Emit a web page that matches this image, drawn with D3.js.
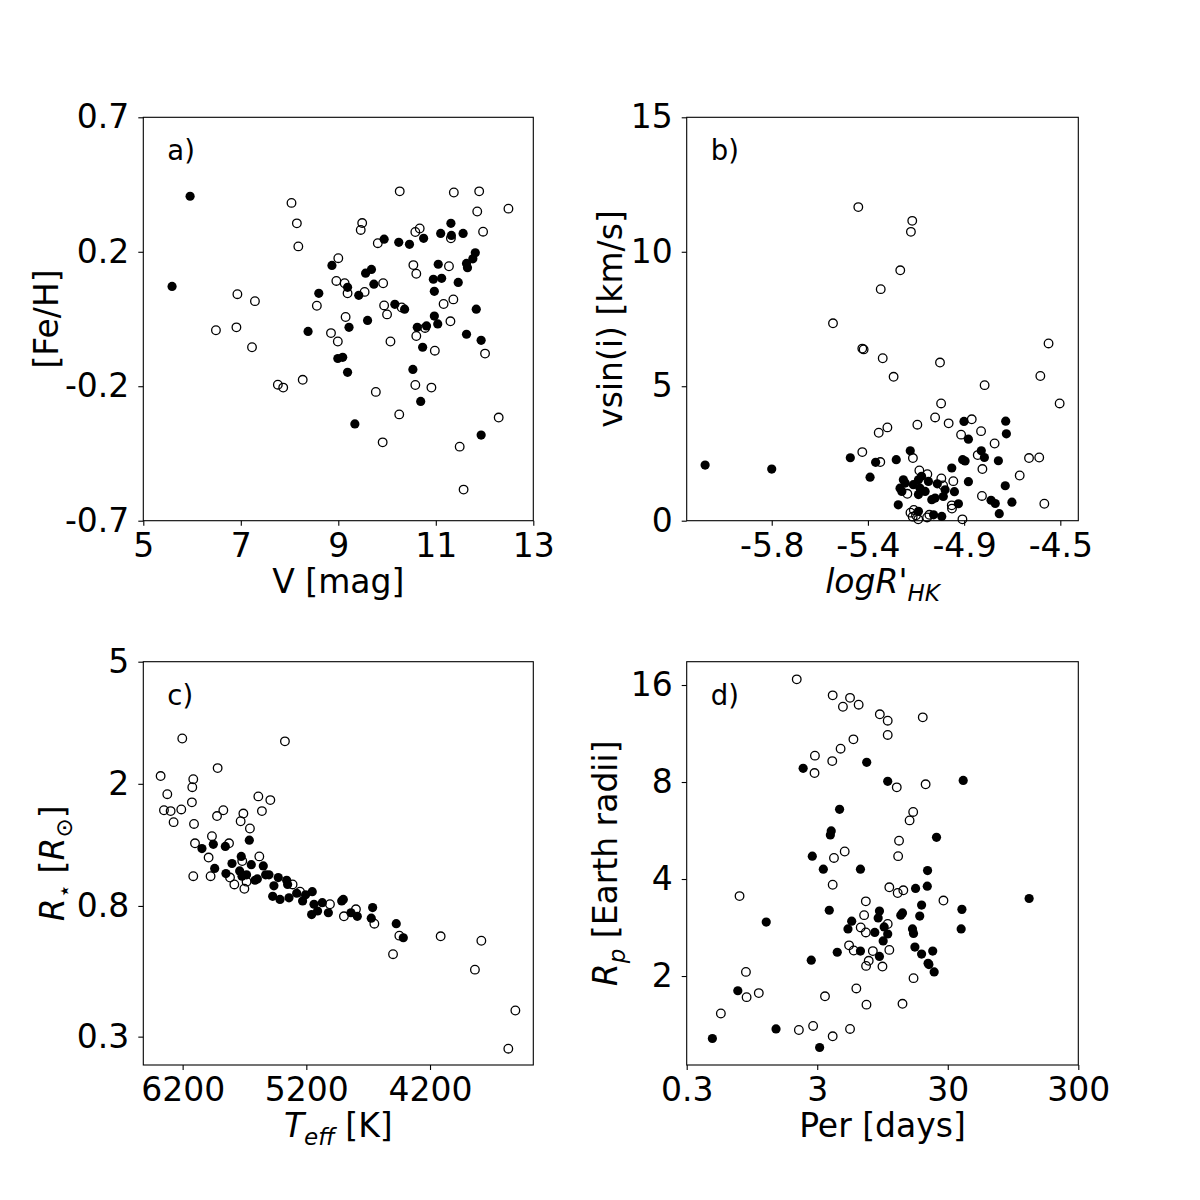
<!DOCTYPE html>
<html>
<head>
<meta charset="utf-8">
<script src="https://cdn.jsdelivr.net/npm/d3@7"></script>
<style>
  body { margin: 0; background: #fff; }
  text { font-family: "DejaVu Sans", sans-serif; fill: #000; }
</style>
</head>
<body>
<div id="chart"></div>
<script>
// ---- panel a : V [mag] vs [Fe/H]
var aFilled = [[5.96,0.426],[5.59,0.113],[8.38,-0.043],[8.60,0.089],[8.87,0.186],[9.19,0.110],[9.22,-0.029],[8.99,-0.137],[9.09,-0.133],[9.19,-0.185],[9.34,-0.364],[9.42,0.082],[9.56,0.159],[9.68,0.172],[9.73,0.121],[9.60,-0.005],[9.94,0.277],[10.24,0.266],[10.46,0.259],[10.75,0.280],[10.16,0.051],[10.36,0.034],[10.53,-0.175],[10.69,-0.286],[10.73,-0.098],[10.62,-0.029],[10.81,-0.024],[10.97,0.010],[11.04,-0.017],[10.97,0.096],[10.95,0.138],[11.12,0.141],[11.05,0.190],[11.10,0.297],[11.31,0.332],[11.32,0.290],[11.56,0.297],[11.46,0.127],[11.63,0.193],[11.65,0.178],[11.76,0.209],[11.81,0.230],[11.83,0.034],[11.63,-0.053],[11.93,-0.074],[11.93,-0.403]]
var aOpen = [[6.49,-0.039],[6.93,0.086],[6.91,-0.029],[7.29,0.062],[7.23,-0.098],[8.04,0.403],[8.15,0.332],[8.18,0.252],[7.76,-0.228],[7.87,-0.238],[8.27,-0.211],[8.56,0.046],[8.85,-0.049],[8.99,-0.078],[9.00,0.211],[8.96,0.132],[9.13,0.124],[9.19,0.089],[9.15,0.007],[9.49,0.333],[9.46,0.309],[9.54,0.094],[9.81,0.263],[9.92,0.124],[9.94,0.047],[10.00,0.016],[10.07,-0.078],[9.77,-0.253],[10.26,0.443],[10.25,-0.331],[9.91,-0.428],[10.30,0.040],[10.58,0.302],[10.67,0.314],[10.54,0.187],[10.60,0.157],[10.60,-0.059],[10.78,-0.031],[10.58,-0.229],[10.91,-0.238],[10.98,-0.110],[11.37,0.439],[11.31,0.280],[11.27,0.183],[11.16,0.052],[11.36,0.068],[11.30,-0.008],[11.89,0.443],[11.85,0.373],[11.97,0.303],[12.49,0.383],[12.01,-0.120],[12.29,-0.342],[11.49,-0.443],[11.57,-0.592]]
var aXTicks = [5, 7, 9, 11, 13]
var aXLabels = ["5", "7", "9", "11", "13"]
var aYTicks = [-0.7, -0.2333, 0.2333, 0.7]
var aYLabels = ["-0.7", "-0.2", "0.2", "0.7"]

// ---- panel b : logR'HK vs vsin(i)
var bFilled = [[-6.100,2.07],[-5.800,1.92],[-5.446,2.34],[-5.357,1.62],[-5.332,2.17],[-5.239,2.27],[-5.176,2.60],[-4.934,3.69],[-4.746,3.70],[-4.743,3.23],[-4.914,3.03],[-4.856,2.60],[-4.842,2.35],[-4.940,2.27],[-4.929,2.22],[-4.779,2.23],[-4.989,1.96],[-4.914,1.45],[-4.748,1.30],[-4.718,0.69],[-4.812,0.76],[-4.793,0.64],[-4.775,0.26],[-4.977,1.08],[-4.959,0.63],[-5.027,0.90],[-5.054,1.37],[-5.230,0.59],[-5.207,1.52],[-5.199,1.40],[-5.222,1.21],[-5.214,1.09],[-5.162,1.34],[-5.139,1.52],[-5.132,1.21],[-5.125,1.65],[-5.139,0.97],[-5.109,1.09],[-5.064,0.84],[-5.094,1.46],[-5.079,0.78],[-5.019,1.15],[-5.139,0.35],[-5.071,0.22],[-5.034,0.16]]
var bOpen = [[-5.410,11.66],[-5.167,11.15],[-5.173,10.74],[-5.221,9.31],[-5.309,8.61],[-5.524,7.34],[-5.392,6.40],[-5.386,6.37],[-5.300,6.04],[-5.251,5.35],[-5.042,5.88],[-4.841,5.04],[-4.553,6.59],[-4.590,5.38],[-4.503,4.36],[-5.037,4.36],[-5.064,3.84],[-5.144,3.57],[-5.003,3.62],[-4.899,3.77],[-5.279,3.47],[-5.318,3.27],[-4.947,3.20],[-4.857,3.33],[-4.796,2.87],[-5.392,2.55],[-5.311,2.18],[-5.164,2.33],[-4.641,2.33],[-4.595,2.35],[-4.683,1.68],[-4.572,0.63],[-4.872,2.44],[-4.851,1.92],[-4.853,0.92],[-5.135,1.87],[-5.099,1.73],[-5.036,1.57],[-5.028,1.31],[-4.982,1.47],[-5.189,1.00],[-4.989,0.57],[-4.988,0.45],[-4.941,0.05],[-5.175,0.30],[-5.165,0.15],[-5.160,0.40],[-5.150,0.20],[-5.100,0.12],[-5.090,0.22],[-5.140,0.05]]
var bXTicks = [-5.8, -5.3667, -4.9333, -4.5]
var bXLabels = ["-5.8", "-5.4", "-4.9", "-4.5"]
var bYTicks = [0, 5, 10, 15]
var bYLabels = ["0", "5", "10", "15"]

// ---- panel c : Teff vs stellar radius
var cFilled = [[6044,1.23],[5952,1.27],[5855,1.25],[5661,1.31],[5941,1.06],[5726,1.16],[5801,1.10],[5850,1.02],[5739,1.04],[5720,1.00],[5683,1.01],[5645,1.09],[5615,0.97],[5596,0.98],[5548,1.08],[5529,1.01],[5502,1.01],[5427,0.99],[5462,0.93],[5359,0.97],[5351,0.94],[5472,0.86],[5413,0.84],[5340,0.85],[5278,0.88],[5206,0.87],[5152,0.89],[5230,0.83],[5157,0.75],[5138,0.81],[5109,0.77],[5071,0.82],[5022,0.76],[4914,0.83],[4901,0.84],[4839,0.76],[4788,0.74],[4664,0.79],[4675,0.73],[4473,0.70],[4416,0.63]]
var cOpen = [[6203,2.81],[5373,2.75],[6378,2.12],[5917,2.25],[6114,2.07],[6122,1.95],[6324,1.85],[6125,1.74],[6351,1.64],[6297,1.63],[6211,1.65],[6273,1.50],[6108,1.48],[5871,1.64],[5922,1.57],[5709,1.60],[5731,1.51],[5588,1.82],[5491,1.77],[5559,1.63],[5656,1.43],[5963,1.35],[6100,1.28],[5825,1.28],[5990,1.15],[5580,1.16],[5718,1.12],[6114,1.00],[5974,1.00],[5817,0.99],[5782,0.94],[5701,0.91],[5683,0.96],[5311,0.94],[5251,0.89],[5009,0.81],[4896,0.74],[4799,0.78],[4650,0.70],[4448,0.64],[4499,0.557],[4114,0.637],[3785,0.616],[3837,0.496],[3510,0.365],[3567,0.274]]
var cXTicks = [6200, 5200, 4200]
var cXLabels = ["6200", "5200", "4200"]
var cYTicks = [5, 2, 0.8, 0.3]
var cYLabels = ["5", "2", "0.8", "0.3"]

// ---- panel d : period vs planet radius
var dFilled = [[2.34,8.82],[7.18,9.21],[10.4,8.04],[39.4,8.09],[4.45,6.58],[3.84,5.64],[3.78,5.48],[24.6,5.39],[2.75,4.71],[3.34,4.29],[6.43,4.29],[21.0,4.25],[17.0,3.74],[20.9,3.80],[126,3.48],[18.9,3.32],[38.5,3.22],[3.71,3.20],[8.99,3.18],[8.79,3.03],[13.1,3.09],[13.5,3.14],[18.3,3.07],[1.22,2.94],[5.51,2.96],[5.16,2.80],[8.28,2.73],[9.77,2.84],[10.4,2.70],[9.60,2.57],[16.1,2.80],[16.4,2.71],[38.0,2.80],[4.27,2.37],[6.43,2.39],[8.99,2.30],[16.8,2.46],[18.9,2.34],[23.0,2.39],[21.2,2.19],[21.5,2.17],[23.6,2.06],[2.70,2.24],[0.739,1.80],[1.45,1.37],[0.472,1.28],[3.13,1.20]]
var dOpen = [[2.09,16.66],[3.94,14.86],[5.35,14.6],[4.72,13.7],[6.23,13.9],[9.05,12.98],[10.4,12.4],[19.3,12.7],[10.4,11.2],[5.68,10.85],[4.53,10.15],[2.88,9.66],[3.91,9.29],[2.86,8.53],[12.2,7.70],[20.3,7.87],[16.3,6.46],[15.3,6.08],[12.7,5.26],[12.5,4.71],[4.87,4.87],[4.03,4.65],[3.94,3.84],[0.762,3.54],[10.7,3.77],[12.4,3.62],[13.7,3.69],[27.8,3.43],[7.07,3.41],[6.86,3.09],[6.46,2.83],[7.07,2.73],[10.4,2.90],[5.26,2.49],[5.71,2.40],[8.0,2.39],[10.7,2.41],[7.44,2.23],[7.10,2.15],[9.48,2.14],[16.4,1.97],[0.853,2.06],[1.07,1.77],[0.863,1.72],[0.548,1.53],[3.44,1.73],[5.98,1.83],[7.15,1.63],[13.5,1.64],[2.79,1.40],[2.17,1.36],[3.94,1.30],[5.35,1.37]]
var dXTicks = [0.3, 3, 30, 300]
var dXLabels = ["0.3", "3", "30", "300"]
var dYTicks = [16, 8, 4, 2]
var dYLabels = ["16", "8", "4", "2"]

var tickFont = 33
var labelFont = 33

var svg = d3.select("#chart").append("svg")
    .attr("width", 1200)
    .attr("height", 1200)

// parts: [text, italic, sub]
function addLabel(node, parts) {
    var shift = 0
    parts.forEach(function (p) {
        var t = node.append("tspan").text(p[0])
        if (p[1]) t.attr("font-style", "italic")
        var want = p[2] ? 8 : 0
        if (p[2]) t.attr("font-size", 23)
        if (want != shift) t.attr("dy", want - shift)
        shift = want
    })
}

function panel(o) {
    var x = o.xScale.range([o.left, o.right])
    var y = o.yScale.range([o.bottom, o.top])
    var g = svg.append("g")

    var ax = g.append("g")
        .attr("transform", "translate(0," + o.bottom + ")")
        .call(d3.axisBottom(x).tickValues(o.xTicks)
            .tickFormat(function (d, i) { return o.xLabels[i] })
            .tickSizeInner(5).tickSizeOuter(0).tickPadding(8))
    var ay = g.append("g")
        .attr("transform", "translate(" + o.left + ",0)")
        .call(d3.axisLeft(y).tickValues(o.yTicks)
            .tickFormat(function (d, i) { return o.yLabels[i] })
            .tickSizeInner(5).tickSizeOuter(0).tickPadding(9))
    ;[ax, ay].forEach(function (a) {
        a.select(".domain").remove()
        a.selectAll("line").attr("stroke", "#000").attr("stroke-width", 1.1)
        a.selectAll("text")
            .style("font-family", "DejaVu Sans")
            .style("font-size", tickFont + "px")
            .attr("fill", "#000")
    })

    g.append("rect")
        .attr("x", o.left).attr("y", o.top)
        .attr("width", o.right - o.left).attr("height", o.bottom - o.top)
        .attr("fill", "none").attr("stroke", "#000").attr("stroke-width", 1.1)

    g.append("g").selectAll("circle")
        .data(o.open)
        .enter()
        .append("circle")
        .attr("cx", d => x(d[0]))
        .attr("cy", d => y(d[1]))
        .attr("r", 4.3)
        .attr("fill", "none")
        .attr("stroke", "#000")
        .attr("stroke-width", 1.3)

    g.append("g").selectAll("circle")
        .data(o.filled)
        .enter()
        .append("circle")
        .attr("cx", d => x(d[0]))
        .attr("cy", d => y(d[1]))
        .attr("r", 4.6)
        .attr("fill", "#000")

    g.append("text")
        .text(o.letter)
        .attr("x", o.left + 24)
        .attr("y", o.top + 43)
        .style("font-size", "27.5px")

    var xl = g.append("text")
        .attr("x", (o.left + o.right) / 2)
        .attr("y", o.bottom + 72)
        .attr("text-anchor", "middle")
        .style("font-size", labelFont + "px")
    addLabel(xl, o.xLabel)

    var yl = g.append("text")
        .attr("transform", "translate(" + o.yLabelX + "," + (o.top + o.bottom) / 2 + ") rotate(-90)")
        .attr("text-anchor", "middle")
        .style("font-size", labelFont + "px")
    addLabel(yl, o.yLabel)
}

panel({
    left: 143.3, right: 533.3, top: 117.3, bottom: 520.7,
    xScale: d3.scaleLinear().domain([5, 13]),
    yScale: d3.scaleLinear().domain([-0.7, 0.7]),
    xTicks: aXTicks, xLabels: aXLabels, yTicks: aYTicks, yLabels: aYLabels,
    filled: aFilled, open: aOpen, letter: "a)",
    xLabel: [["V [mag]"]], yLabel: [["[Fe/H]"]], yLabelX: 58
})

panel({
    left: 686.7, right: 1078.3, top: 117.3, bottom: 520.7,
    xScale: d3.scaleLinear().domain([-6.183, -4.419]),
    yScale: d3.scaleLinear().domain([0, 15]),
    xTicks: bXTicks, xLabels: bXLabels, yTicks: bYTicks, yLabels: bYLabels,
    filled: bFilled, open: bOpen, letter: "b)",
    xLabel: [["logR'", true], ["HK", true, true]],
    yLabel: [["vsin(i) [km/s]"]], yLabelX: 622
})

panel({
    left: 143.3, right: 533.3, top: 661.7, bottom: 1065,
    xScale: d3.scaleLinear().domain([6518, 3365]),
    yScale: d3.scaleLog().domain([0.2425, 5]),
    xTicks: cXTicks, xLabels: cXLabels, yTicks: cYTicks, yLabels: cYLabels,
    filled: cFilled, open: cOpen, letter: "c)",
    xLabel: [["T", true], ["eff", true, true], [" [K]"]],
    yLabel: [["R", true], ["\u22C6", false, true], [" ["], ["R", true], ["\u2299", false, true], ["]"]],
    yLabelX: 64
})

panel({
    left: 686.7, right: 1078.3, top: 661.7, bottom: 1065,
    xScale: d3.scaleLog().domain([0.3, 300]),
    yScale: d3.scaleLog().domain([1.059, 18.9]),
    xTicks: dXTicks, xLabels: dXLabels, yTicks: dYTicks, yLabels: dYLabels,
    filled: dFilled, open: dOpen, letter: "d)",
    xLabel: [["Per [days]"]],
    yLabel: [["R", true], ["p", true, true], [" [Earth radii]"]],
    yLabelX: 617
})
</script>
</body>
</html>
